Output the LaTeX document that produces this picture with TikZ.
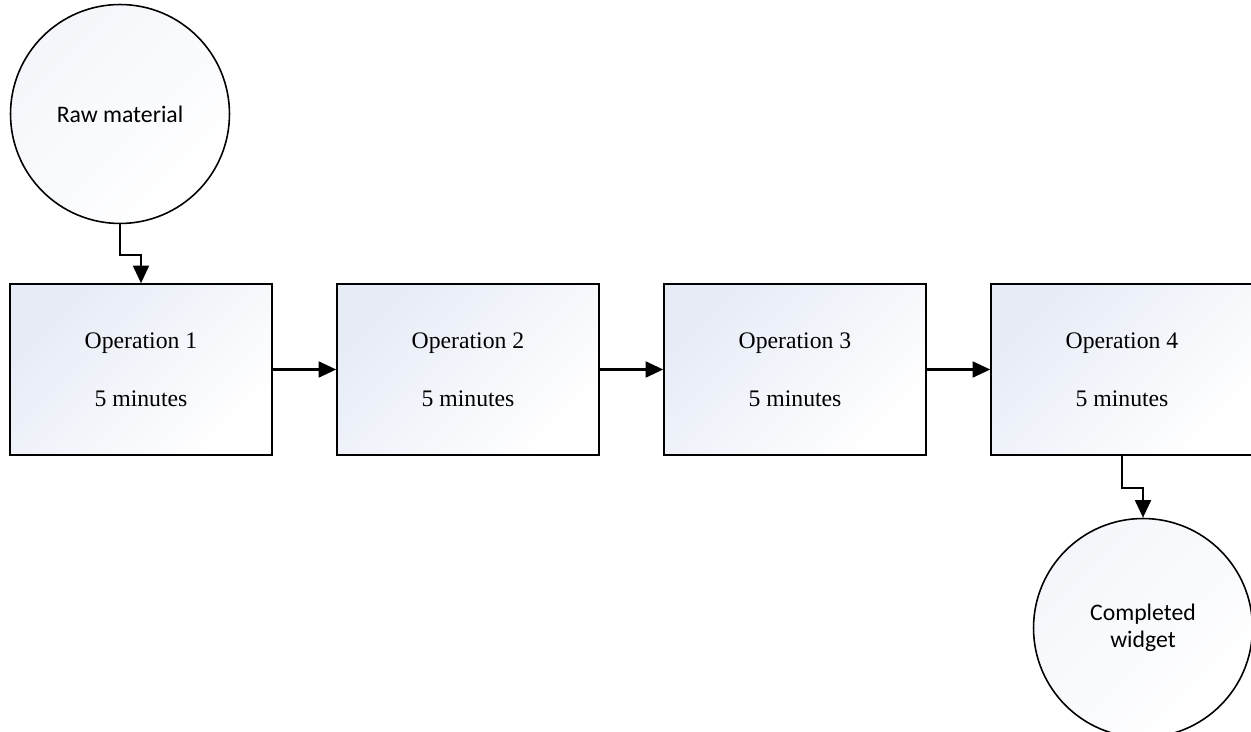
\documentclass[tikz,border=0pt]{standalone}
\usepackage{fontspec}
\setmainfont{Liberation Serif}
\newfontfamily\calfont{Carlito}
\usetikzlibrary{arrows.meta}

\begin{document}
\begin{tikzpicture}[x=0.02cm,y=-0.02cm]
			\definecolor{paleblue}{HTML}{E6EBF6}
			\tikzset{
				opbox/.style={draw,line width=0.9pt,minimum width=5.24cm,minimum height=3.42cm,
					top color=paleblue,bottom color=white,shading angle=45,
					align=center,font=\fontsize{13.5}{16}\selectfont},
				endpoint/.style={draw,circle,line width=0.9pt,minimum size=4.38cm,inner sep=0pt,
					top color=paleblue!45,bottom color=white,shading angle=45,
					align=center,font=\calfont\fontsize{13.5}{15.5}\selectfont},
				flow/.style={line width=1.4pt,-{Triangle[length=10pt,width=9pt]}}
			}
			\useasboundingbox (0,0) rectangle (1251,732);
			% start and end
			\node[endpoint] (raw) at (120,114) {Raw material};
			\node[endpoint] (done) at (1143,628) {Completed\\widget};
			% operations
			\node[opbox] (op1) at (141,369.5) {Operation 1\\[17pt]5 minutes};
			\node[opbox] (op2) at (468,369.5) {Operation 2\\[17pt]5 minutes};
			\node[opbox] (op3) at (795,369.5) {Operation 3\\[17pt]5 minutes};
			\node[opbox] (op4) at (1122,369.5) {Operation 4\\[17pt]5 minutes};
			% flow
			\draw[flow] (raw.south) -- ++(0,31) -| (op1.north);
			\draw[flow] (op1) -- (op2);
			\draw[flow] (op2) -- (op3);
			\draw[flow] (op3) -- (op4);
			\draw[flow] (op4.south) -- ++(0,32) -| (done.north);
			\end{tikzpicture}
\end{document}
